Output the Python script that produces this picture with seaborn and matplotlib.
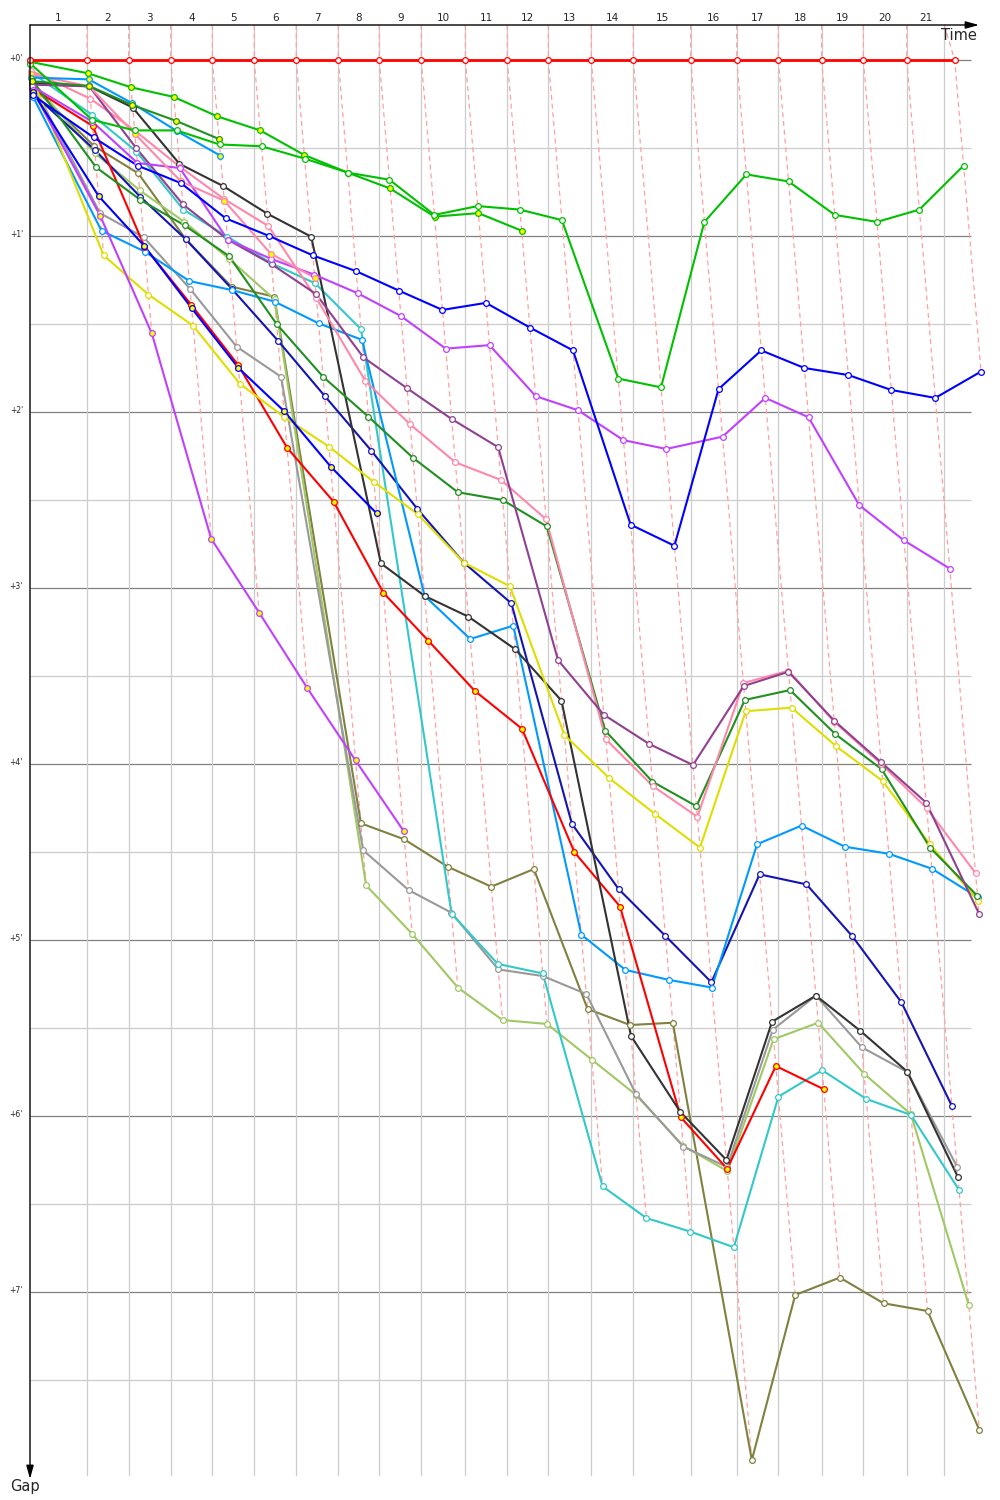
import numpy as np
import pandas as pd
import matplotlib
matplotlib.use("Agg")
import matplotlib.pyplot as plt
import seaborn as sns

# ---------------- data ----------------
# leader crossing times (minutes) for lap 0..21
leader_time = [0, 3.83, 6.62, 9.44, 12.24, 15.05, 17.87, 20.69, 23.44, 26.26, 29.22,
               32.03, 34.79, 37.67, 40.49, 44.34, 47.43, 50.22, 53.13, 55.93, 58.84, 62.06]
# vertical lap grid lines (minutes)
grid_time = [3.83, 6.62, 9.44, 12.24, 15.05, 17.87, 20.69, 23.44, 26.26, 29.22,
             32.03, 34.79, 37.67, 40.49, 44.34, 47.43, 50.22, 53.13, 55.93, 58.84, 61.36]
lap_labels = [str(i) for i in range(1, 22)]
gap_ticks = [0, 1, 2, 3, 4, 5, 6, 7]
gap_tick_labels = ["+0'", "+1'", "+2'", "+3'", "+4'", "+5'", "+6'", "+7'"]

# gaps (minutes) per driver, lap 0..n
gap_red1 = [0.0] * 22
gap_green1 = [0.02, 0.34, 0.40, 0.40, 0.48, 0.49, 0.56, 0.64, 0.68, 0.88, 0.83, 0.85, 0.91, 1.81,
              1.86, 0.92, 0.65, 0.69, 0.88, 0.92, 0.85, 0.60]
gap_green2 = [0.01, 0.076, 0.155, 0.21, 0.32, 0.40, 0.54, 0.64, 0.73, 0.89, 0.87, 0.97]
gap_blue1 = [0.20, 0.44, 0.60, 0.70, 0.90, 1.00, 1.11, 1.20, 1.31, 1.42, 1.38, 1.52, 1.65, 2.64,
             2.76, 1.87, 1.65, 1.75, 1.79, 1.875, 1.92, 1.77]
gap_violet1 = [0.15, 0.35, 0.585, 0.614, 1.02, 1.13, 1.22, 1.326, 1.455, 1.64, 1.62, 1.91, 1.99,
               2.16, 2.21, 2.14, 1.92, 2.03, 2.53, 2.73, 2.89]
gap_violet2 = [0.17, 0.886, 1.553, 2.72, 3.14, 3.57, 3.98, 4.38]
gap_pink1 = [0.06, 0.22, 0.40, 0.606, 0.79, 0.943, 1.354, 1.824, 2.07, 2.286, 2.386, 2.61, 3.86,
             4.125, 4.30, 3.54, 3.47, 3.76, 4.0, 4.25, 4.62]
gap_pink2 = [0.08, 0.15, 0.42, 0.69, 0.80, 1.10, 1.237]
gap_purple = [0.14, 0.15, 0.50, 0.82, 1.02, 1.16, 1.33, 1.69, 1.865, 2.04, 2.20, 3.41, 3.72, 3.886,
              4.006, 3.557, 3.476, 3.754, 3.99, 4.22, 4.85]
gap_forest1 = [0.11, 0.61, 0.795, 0.94, 1.114, 1.50, 1.80, 2.027, 2.26, 2.456, 2.50, 2.65, 3.81,
               4.10, 4.24, 3.636, 3.58, 3.83, 4.03, 4.475, 4.75]
gap_forest2 = [0.12, 0.148, 0.256, 0.345, 0.449]
gap_black = [0.13, 0.15, 0.27, 0.59, 0.716, 0.873, 1.004, 2.86, 3.045, 3.163, 3.348, 3.64, 5.545,
             5.977, 6.25, 5.464, 5.316, 5.517, 5.748, 6.347]
gap_azure1 = [0.21, 0.97, 1.089, 1.256, 1.307, 1.373, 1.496, 1.59, 3.045, 3.29, 3.214, 4.97, 5.17,
              5.227, 5.27, 4.456, 4.35, 4.47, 4.51, 4.595, 4.757]
gap_azure2 = [0.10, 0.11, 0.246, 0.403, 0.544]
gap_yellow = [0.09, 1.11, 1.333, 1.51, 1.839, 2.03, 2.197, 2.398, 2.58, 2.856, 2.99, 3.835, 4.08,
              4.284, 4.475, 3.70, 3.68, 3.90, 4.097, 4.455, 4.776]
gap_red2 = [0.16, 0.375, 1.06, 1.392, 1.733, 2.203, 2.51, 3.027, 3.30, 3.584, 3.80, 4.50, 4.81,
            6.007, 6.30, 5.716, 5.848]
gap_blue2 = [0.18, 0.773, 1.057, 1.41, 1.75, 1.994, 2.31, 2.576]
gap_navy = [0.19, 0.51, 0.777, 1.019, 1.30, 1.595, 1.909, 2.22, 2.55, 2.856, 3.087, 4.34, 4.71,
            4.977, 5.24, 4.627, 4.684, 4.98, 5.354, 5.943]
gap_cyan = [0.07, 0.31, 0.52, 0.85, 1.004, 1.155, 1.269, 1.53, 4.85, 5.136, 5.19, 6.40, 6.58,
            6.657, 6.746, 5.89, 5.74, 5.903, 5.994, 6.42]
gap_gray = [0.13, 0.87, 1.007, 1.30, 1.629, 1.80, 4.49, 4.716, 4.845, 5.167, 5.205, 5.307, 5.875,
            6.174, 6.29, 5.51, 5.316, 5.61, 5.75, 6.288]
gap_olive = [0.15, 0.49, 0.644, 1.019, 1.288, 1.345, 4.337, 4.428, 4.583, 4.697, 4.597, 5.392,
             5.483, 5.47, 7.955, 7.017, 6.918, 7.064, 7.108, 7.784]
gap_lightolive = [0.12, 0.53, 0.74, 0.92, 1.13, 1.36, 4.69, 4.966, 5.27, 5.455, 5.477, 5.68, 5.88,
                  6.17, 6.313, 5.564, 5.47, 5.76, 5.99, 7.074]

# (name, gaps, line colour, marker fill)
drivers = [
    ("olive", gap_olive, "#808040", "white"),
    ("lightolive", gap_lightolive, "#a0c864", "white"),
    ("gray", gap_gray, "#999999", "white"),
    ("cyan", gap_cyan, "#33c8c8", "white"),
    ("navy", gap_navy, "#1414b4", "white"),
    ("azure1", gap_azure1, "#0099ff", "white"),
    ("red2", gap_red2, "#ff0000", "#ffff00"),
    ("black", gap_black, "#333333", "white"),
    ("yellow", gap_yellow, "#dede00", "white"),
    ("forest1", gap_forest1, "#209020", "white"),
    ("pink1", gap_pink1, "#ff88aa", "white"),
    ("purple", gap_purple, "#904090", "white"),
    ("violet1", gap_violet1, "#c040ff", "white"),
    ("violet2", gap_violet2, "#c040ff", "#ffff00"),
    ("blue2", gap_blue2, "#0000ff", "#ffff00"),
    ("pink2", gap_pink2, "#ff88aa", "#ffff00"),
    ("azure2", gap_azure2, "#0099ff", "#ffff00"),
    ("forest2", gap_forest2, "#209020", "#ffff00"),
    ("blue1", gap_blue1, "#0000ff", "white"),
    ("green2", gap_green2, "#00c000", "#ffff00"),
    ("green1", gap_green1, "#00c000", "white"),
    ("red1", gap_red1, "#ff0000", "white"),
]

# ---------------- build table ----------------
rows = []
for order, (name, gaps, col, fill) in enumerate(drivers):
    for lap, g in enumerate(gaps):
        rows.append({"driver": name, "lap": lap, "gap": g,
                     "time": leader_time[lap] + g, "order": order})
df = pd.DataFrame(rows)
palette = {name: col for name, gaps, col, fill in drivers}

# ---------------- figure ----------------
sns.set_style("white")
plt.rcParams["font.family"] = ["DejaVu Sans"]
fig = plt.figure(figsize=(10, 15), dpi=100)
ax = fig.add_axes([0, 0, 1, 1])

X0, KX = 30.0, 14.9     # px offset, px per minute (time)
Y0, KY = 60.0, 176.0    # px offset, px per minute (gap)
def tx(px):
    return (px - X0) / KX
def gy(px):
    return (px - Y0) / KY

ax.set_xlim(tx(0), tx(1000))
ax.set_ylim(gy(1500), gy(0))
ax.axis("off")

top = gy(25)
bottom = gy(1475)
right = tx(970.7)

# horizontal grid
for i in range(16):
    m = i * 0.5
    col = "#808080" if i % 2 == 0 else "#cccccc"
    ax.plot([0, right], [m, m], color=col, lw=0.9, zorder=1, solid_capstyle="butt")
# vertical grid
for t in grid_time:
    ax.plot([t, t], [top, bottom], color="#cccccc", lw=0.9, zorder=1)

# lap lines (pink dashed) through all cars of each lap
for lap in range(1, 22):
    pts = df[df["lap"] == lap].sort_values("gap")
    xs = [grid_time[lap - 1]] + list(pts["time"])
    ys = [top] + list(pts["gap"])
    ax.plot(xs, ys, color="#ffa0a0", lw=0.9, ls=(0, (4, 3)), zorder=2)

# driver lines
sub = df[df["driver"] != "red1"]
sns.lineplot(data=sub, x="time", y="gap", hue="driver", palette=palette, sort=False,
             estimator=None, legend=False, lw=1.5, ax=ax, zorder=3)
for name, gaps, col, fill in drivers:
    d = df[df["driver"] == name]
    if name == "red1":
        ax.plot(d["time"], d["gap"], color=col, lw=2.0, zorder=5)
    sns.scatterplot(x=d["time"], y=d["gap"], color=fill, edgecolor=col, s=17, linewidth=0.9,
                    ax=ax, zorder=6 if name == "red1" else 4, legend=False)

# axes with arrows
ax.annotate("", xy=(tx(979), top), xytext=(0, top),
            arrowprops=dict(arrowstyle="-|>,head_length=0.8,head_width=0.22", color="black",
                            lw=1.0, mutation_scale=10, shrinkA=0, shrinkB=0), zorder=7)
ax.annotate("", xy=(0, gy(1479)), xytext=(0, top),
            arrowprops=dict(arrowstyle="-|>,head_length=0.8,head_width=0.22", color="black",
                            lw=1.0, mutation_scale=10, shrinkA=0, shrinkB=0), zorder=7)

# lap labels
edges = [0.0] + grid_time
for i, lab in enumerate(lap_labels):
    ax.text((edges[i] + edges[i + 1]) / 2, gy(18), lab, ha="center", va="center", fontsize=7.5)
# gap labels
for m, lab in zip(gap_ticks, gap_tick_labels):
    ax.text(tx(23), m - 0.01, lab, ha="right", va="center", fontsize=5.5)

ax.text(tx(977), gy(35), "Time", ha="right", va="center", fontsize=10.5)
ax.text(tx(25), gy(1486), "Gap", ha="center", va="center", fontsize=10.5)

fig.savefig("out.png", dpi=100)
